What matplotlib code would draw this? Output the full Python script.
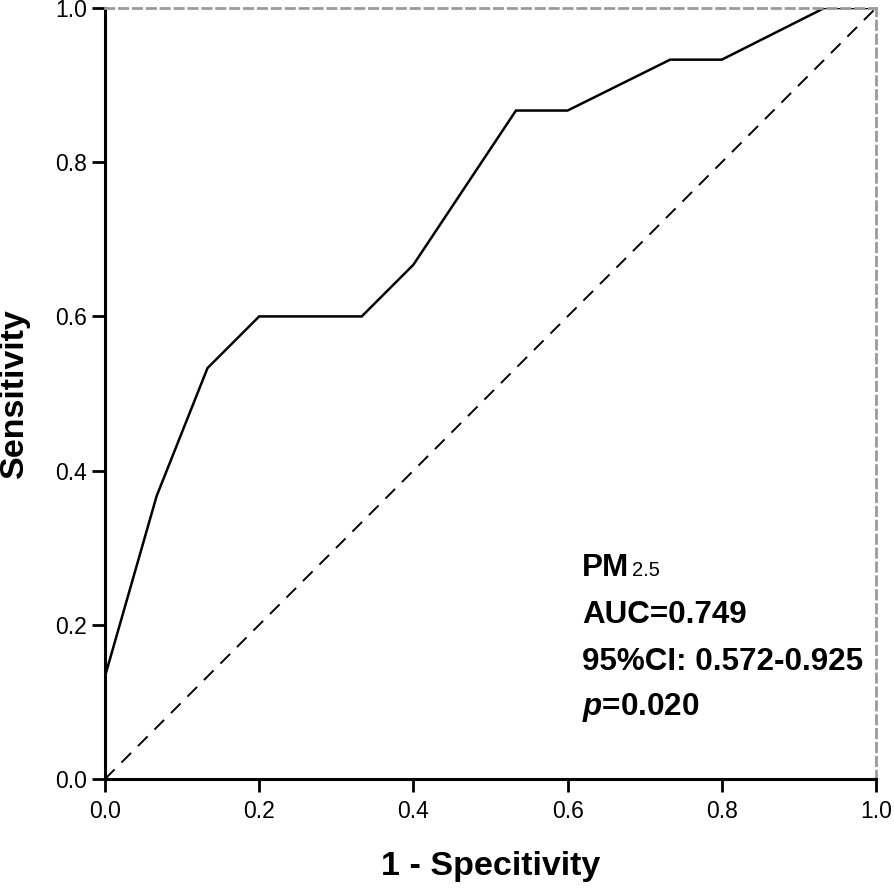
import matplotlib
matplotlib.use("Agg")
import matplotlib.pyplot as plt

plt.rcParams['font.family'] = ['Liberation Sans', 'DejaVu Sans']
plt.rcParams['mathtext.fontset'] = 'custom'
plt.rcParams['mathtext.rm'] = 'Liberation Sans'
plt.rcParams['mathtext.it'] = 'Liberation Sans:italic:bold'
plt.rcParams['mathtext.bf'] = 'Liberation Sans:bold'

## ROC curve points
fpr = [0.0, 0.0, 0.067, 0.133, 0.2, 0.333, 0.4, 0.533, 0.6, 0.733, 0.8, 0.933, 1.0]
tpr = [0.0, 0.133, 0.367, 0.533, 0.6, 0.6, 0.667, 0.867, 0.867, 0.933, 0.933, 1.0, 1.0]
ref_line = [0.0, 1.0]
ticks = [0.0, 0.2, 0.4, 0.6, 0.8, 1.0]
tick_labels = ['0.0', '0.2', '0.4', '0.6', '0.8', '1.0']
notes = ['AUC=0.749', '95%CI: 0.572-0.925', r'$\mathit{p}$=0.020']

fig = plt.figure(figsize=(8.94, 8.88), dpi=100)
ax = fig.add_axes([0.1174, 0.1227, 0.8625, 0.8683])

ax.plot(ref_line, ref_line, color='black', lw=1.4, linestyle=(0, (7, 5)))
ax.plot(fpr, tpr, color='black', lw=1.8, solid_joinstyle='miter')

ax.set_xlim(0, 1)
ax.set_ylim(0, 1)
ax.set_xticks(ticks)
ax.set_xticklabels(tick_labels)
ax.set_yticks(ticks)
ax.set_yticklabels(tick_labels)
ax.tick_params(direction='out', length=9.5, width=2, labelsize=16.5)
ax.tick_params(axis='x', pad=5.5)
ax.tick_params(axis='y', pad=3.5)

for s in ['left', 'bottom']:
    ax.spines[s].set_linewidth(2.2)
    ax.spines[s].set_color('black')
for s in ['top', 'right']:
    ax.spines[s].set_linewidth(2)
    ax.spines[s].set_color('#9a9a9a')
    ax.spines[s].set_linestyle((0, (3, 2)))

ax.set_xlabel('1 - Specitivity', fontsize=24.5, fontweight='bold', labelpad=20)
ax.set_ylabel('Sensitivity', fontsize=24.5, fontweight='bold', labelpad=18)

# annotation block: PM with its subscript, then the stats
ax.text(0.619, 0.2633, 'PM', transform=ax.transAxes, fontsize=22.6,
        fontweight='bold', va='baseline', ha='left')
ax.text(0.6835, 0.2633, '2.5', transform=ax.transAxes, fontsize=14.5,
        va='baseline', ha='left')
ys = [0.2023, 0.1414, 0.083]
for txt, y in zip(notes, ys):
    ax.text(0.619, y, txt, transform=ax.transAxes, fontsize=22.6, fontweight='bold',
            va='baseline', ha='left')

fig.savefig('out.png', dpi=100)
